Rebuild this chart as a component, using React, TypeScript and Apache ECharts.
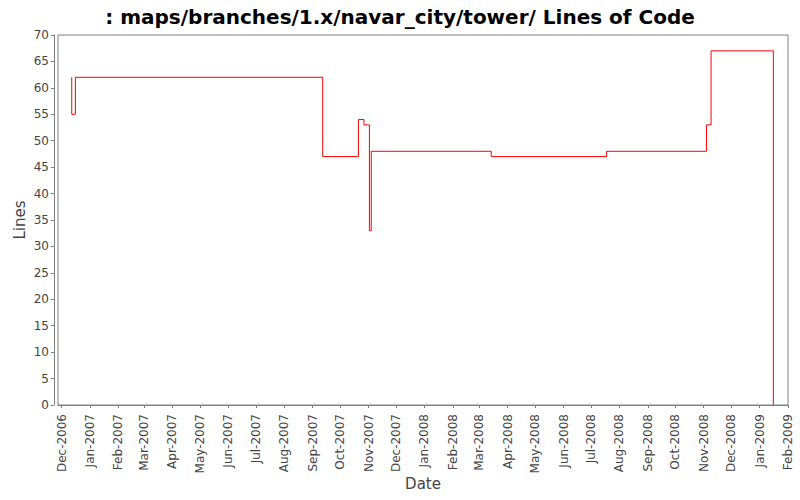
import React, { useEffect, useRef } from "react";
import * as echarts from "echarts";

const changeDates: string[] = [
  "2006-12-12", "2006-12-12", "2006-12-16", "2007-09-12", "2007-10-21", "2007-10-27",
  "2007-11-02", "2007-11-04", "2008-03-14", "2008-07-18", "2008-11-04", "2008-11-09", "2009-01-16",
];
const lineValues: number[] = [62, 55, 62, 47, 54, 53, 33, 48, 47, 48, 53, 67, 0];
const yTicks = { min: 0, max: 70, interval: 5 };
const xRange = { min: "2006-11-27", max: "2009-02-01" };
const MONTHS = ["Jan", "Feb", "Mar", "Apr", "May", "Jun", "Jul", "Aug", "Sep", "Oct", "Nov", "Dec"];

function toTime(s: string): number {
  const [y, m, d] = s.split("-").map(Number);
  return new Date(y, m - 1, d).getTime();
}

export default function App() {
  const ref = useRef<HTMLDivElement>(null);
  useEffect(() => {
    if (!ref.current) return;
    const chart = echarts.init(ref.current, null, { renderer: "svg" });
    const data = changeDates.map((d, i) => [toTime(d), lineValues[i]]);
    const font = "DejaVu Sans";
    chart.setOption({
      animation: false,
      backgroundColor: "#ffffff",
      title: {
        text: ": maps/branches/1.x/navar_city/tower/ Lines of Code",
        left: "center",
        top: 2,
        textStyle: { fontFamily: font, fontWeight: "bold", fontSize: 20, color: "#000" },
      },
      grid: {
        left: 58, right: 12, top: 35, bottom: 95,
        outerBoundsMode: "none",
        containLabel: false,
        show: true, borderColor: "#808080", borderWidth: 1, backgroundColor: "#fff",
      },
      xAxis: {
        type: "time",
        min: toTime(xRange.min),
        max: toTime(xRange.max),
        offset: 4,
        splitNumber: 26,
        minInterval: 28 * 86400000,
        maxInterval: 31 * 86400000,
        name: "Date",
        nameLocation: "middle",
        nameGap: 67,
        nameMoveOverlap: false,
        nameTextStyle: { fontFamily: font, fontSize: 15, color: "#444" },
        axisLine: { show: true, lineStyle: { color: "#808080" } },
        axisTick: { show: true, length: 3, lineStyle: { color: "#808080" } },
        splitLine: { show: false },
        axisLabel: {
          rotate: 90,
          fontFamily: font,
          fontSize: 12,
          color: "#444",
          margin: 5,
          hideOverlap: false,
          showMinLabel: false,
          showMaxLabel: true,
          formatter: (v: number) => {
            const d = new Date(v);
            return MONTHS[d.getMonth()] + "-" + d.getFullYear();
          },
        },
      },
      yAxis: {
        type: "value",
        min: yTicks.min,
        max: yTicks.max,
        interval: yTicks.interval,
        offset: 4,
        name: "Lines",
        nameLocation: "middle",
        nameGap: 27,
        nameMoveOverlap: false,
        nameTextStyle: { fontFamily: font, fontSize: 15, color: "#444" },
        axisLine: { show: true, lineStyle: { color: "#808080" } },
        axisTick: { show: true, length: 3, lineStyle: { color: "#808080" } },
        splitLine: { show: false },
        axisLabel: { fontFamily: font, fontSize: 12, color: "#444", margin: 5 },
      },
      series: [
        {
          type: "line",
          step: "end",
          data,
          showSymbol: false,
          symbol: "none",
          lineStyle: { color: "#ff0000", width: 1 },
          itemStyle: { color: "#ff0000" },
        },
      ],
    });
    return () => chart.dispose();
  }, []);
  return <div ref={ref} style={{ width: 800, height: 500, position: "absolute", left: 0, top: 0 }} />;
}
